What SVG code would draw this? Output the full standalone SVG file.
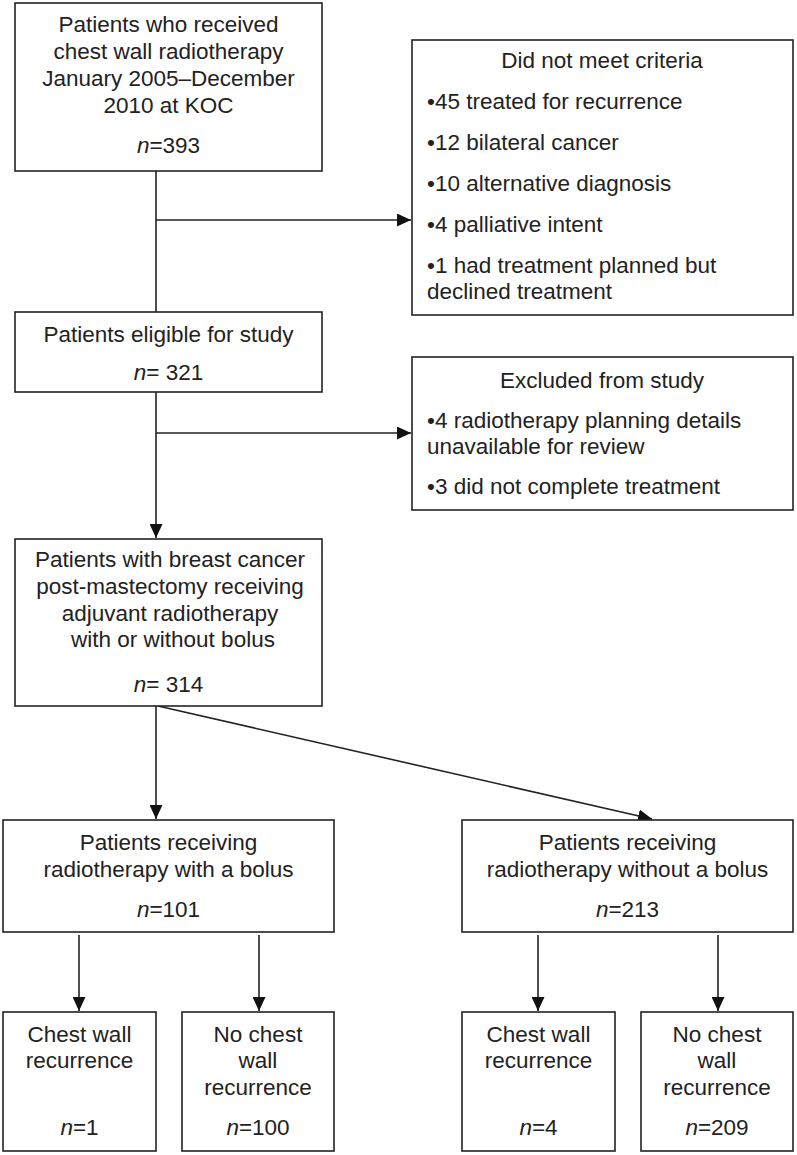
<svg xmlns="http://www.w3.org/2000/svg" width="797" height="1155" viewBox="0 0 797 1155">
<style>
.box{fill:#fff;stroke:#222;stroke-width:1.6}
.t{font-family:"Liberation Sans",Arial,sans-serif;font-size:22.5px;fill:#222}
.c{text-anchor:middle}
.ln{stroke:#222;stroke-width:1.6;fill:none}
</style>
<defs>
<marker id="ah" markerUnits="userSpaceOnUse" markerWidth="15" markerHeight="13" refX="14" refY="6.5" orient="auto">
<path d="M0,0 L14,6.5 L0,13 z" fill="#111"/>
</marker>
</defs>
<rect width="797" height="1155" fill="#fff"/>
<g id="connectors">
<line class="ln" x1="156" y1="171" x2="156" y2="312"/>
<line class="ln" x1="156" y1="220" x2="411" y2="220" marker-end="url(#ah)"/>
<line class="ln" x1="156" y1="392" x2="156" y2="538" marker-end="url(#ah)"/>
<line class="ln" x1="156" y1="433" x2="411" y2="433" marker-end="url(#ah)"/>
<line class="ln" x1="156" y1="706" x2="156" y2="819" marker-end="url(#ah)"/>
<line class="ln" x1="158" y1="706" x2="652" y2="819" marker-end="url(#ah)"/>
<line class="ln" x1="79" y1="935" x2="79" y2="1011" marker-end="url(#ah)"/>
<line class="ln" x1="259" y1="935" x2="259" y2="1011" marker-end="url(#ah)"/>
<line class="ln" x1="538" y1="935" x2="538" y2="1011" marker-end="url(#ah)"/>
<line class="ln" x1="718" y1="935" x2="718" y2="1011" marker-end="url(#ah)"/>
</g>
<g id="n1">
<rect class="box" x="15" y="3" width="307" height="168"/>
<text class="t c" x="168.5" y="32">Patients who received</text>
<text class="t c" x="168.5" y="59">chest wall radiotherapy</text>
<text class="t c" x="168.5" y="86">January 2005–December</text>
<text class="t c" x="168.5" y="113">2010 at KOC</text>
<text class="t c" x="168.5" y="153"><tspan font-style="italic">n</tspan>=393</text>
</g>
<g id="n2">
<rect class="box" x="412" y="40" width="381" height="275"/>
<text class="t c" x="602" y="68">Did not meet criteria</text>
<text class="t" x="427" y="109">•45 treated for recurrence</text>
<text class="t" x="427" y="150">•12 bilateral cancer</text>
<text class="t" x="427" y="191">•10 alternative diagnosis</text>
<text class="t" x="427" y="232">•4 palliative intent</text>
<text class="t" x="427" y="273">•1 had treatment planned but</text>
<text class="t" x="427" y="299">declined treatment</text>
</g>
<g id="n3">
<rect class="box" x="15" y="312" width="307" height="80"/>
<text class="t c" x="168.5" y="342">Patients eligible for study</text>
<text class="t c" x="168.5" y="380"><tspan font-style="italic">n</tspan>= 321</text>
</g>
<g id="n4">
<rect class="box" x="412" y="357" width="381" height="153"/>
<text class="t c" x="602" y="388">Excluded from study</text>
<text class="t" x="427" y="428">•4 radiotherapy planning details</text>
<text class="t" x="427" y="454">unavailable for review</text>
<text class="t" x="427" y="494">•3 did not complete treatment</text>
</g>
<g id="n5">
<rect class="box" x="15" y="539" width="307" height="167"/>
<text class="t c" x="170" y="567">Patients with breast cancer</text>
<text class="t c" x="170" y="594">post-mastectomy receiving</text>
<text class="t c" x="170" y="621">adjuvant radiotherapy</text>
<text class="t c" x="173" y="647">with or without bolus</text>
<text class="t c" x="168.5" y="692"><tspan font-style="italic">n</tspan>= 314</text>
</g>
<g id="n6">
<rect class="box" x="3" y="820" width="331" height="112"/>
<text class="t c" x="168.5" y="850">Patients receiving</text>
<text class="t c" x="168.5" y="877">radiotherapy with a bolus</text>
<text class="t c" x="168.5" y="917"><tspan font-style="italic">n</tspan>=101</text>
</g>
<g id="n7">
<rect class="box" x="462" y="820" width="331" height="112"/>
<text class="t c" x="627.5" y="850">Patients receiving</text>
<text class="t c" x="627.5" y="877">radiotherapy without a bolus</text>
<text class="t c" x="627.5" y="917"><tspan font-style="italic">n</tspan>=213</text>
</g>
<g id="n8">
<rect class="box" x="3" y="1012" width="153" height="139"/>
<text class="t c" x="79.5" y="1042">Chest wall</text>
<text class="t c" x="79.5" y="1068">recurrence</text>
<text class="t c" x="79.5" y="1135"><tspan font-style="italic">n</tspan>=1</text>
</g>
<g id="n9">
<rect class="box" x="182" y="1012" width="152" height="139"/>
<text class="t c" x="258" y="1042">No chest</text>
<text class="t c" x="258" y="1068">wall</text>
<text class="t c" x="258" y="1095">recurrence</text>
<text class="t c" x="258" y="1135"><tspan font-style="italic">n</tspan>=100</text>
</g>
<g id="n10">
<rect class="box" x="462" y="1012" width="153" height="139"/>
<text class="t c" x="538.5" y="1042">Chest wall</text>
<text class="t c" x="538.5" y="1068">recurrence</text>
<text class="t c" x="538.5" y="1135"><tspan font-style="italic">n</tspan>=4</text>
</g>
<g id="n11">
<rect class="box" x="641" y="1012" width="152" height="139"/>
<text class="t c" x="717" y="1042">No chest</text>
<text class="t c" x="717" y="1068">wall</text>
<text class="t c" x="717" y="1095">recurrence</text>
<text class="t c" x="717" y="1135"><tspan font-style="italic">n</tspan>=209</text>
</g>
</svg>
